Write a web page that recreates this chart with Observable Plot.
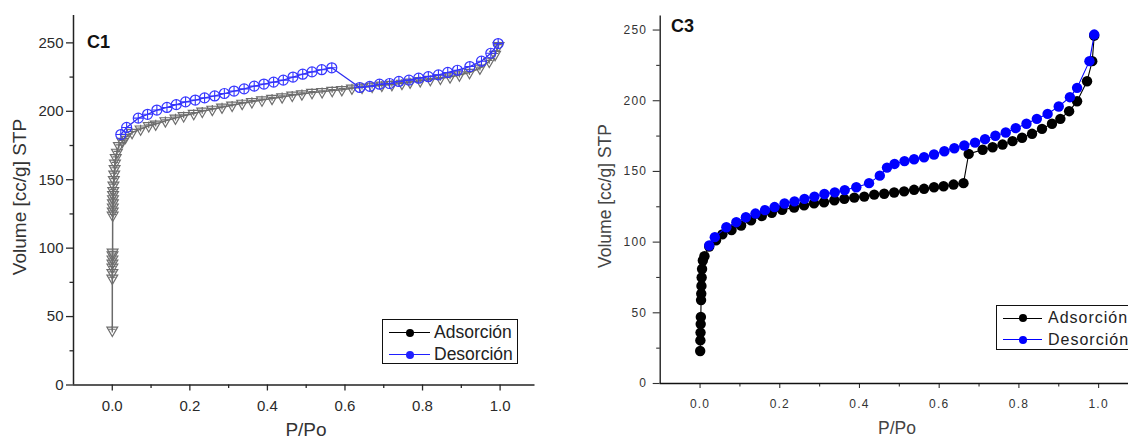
<!DOCTYPE html>
<html><head><meta charset="utf-8">
<script src="https://cdn.jsdelivr.net/npm/d3@7"></script>
<script src="https://cdn.jsdelivr.net/npm/@observablehq/plot@0.6"></script>
<style>
html,body{margin:0;padding:0;background:#fff;overflow:hidden;}
#root{position:relative;width:1128px;height:440px;overflow:hidden;font-family:"Liberation Sans",Arial,sans-serif;}
.panel{position:absolute;top:0;}
.t{position:absolute;white-space:nowrap;line-height:1;}
.c{transform:translate(-50%,-50%);}
.yt{transform:translate(-50%,-50%) rotate(-90deg);}
.lg{position:absolute;background:#fff;border:1.4px solid #111;box-sizing:border-box;}
.row{position:absolute;left:0;display:flex;align-items:center;white-space:nowrap;}
.smp{position:relative;display:inline-block;height:10px;}
.smp i{position:absolute;left:0;right:0;top:4.5px;height:1.2px;}
.smp b{position:absolute;top:1px;width:8px;height:8px;border-radius:50%;}
</style></head><body><div id="root"></div>
<script>
// ---------- data ----------
const xMajor = [0, 0.2, 0.4, 0.6, 0.8, 1.0];
const xMinor = [0.1, 0.3, 0.5, 0.7, 0.9];
const yMajor = [0, 50, 100, 150, 200, 250];
const yMinor = [25, 75, 125, 175, 225];
const seriesNames = ["Adsorción", "Desorción"];
const panelTitles = ["C1", "C3"];

// C1 adsorption (P/Po, volume)
const c1AdsP = [0.00002,0.0001,0.0002,0.0003,0.0004,0.0005,0.0006,0.0008,0.001,0.0012,0.0014,0.0016,0.0018,0.002,0.0025,0.003,0.004,0.005,0.006,0.007,0.009,0.012,0.017,0.026,0.034,0.051,0.073,0.094,0.112,0.137,0.163,0.184,0.21,0.232,0.258,0.283,0.309,0.335,0.36,0.386,0.412,0.438,0.464,0.489,0.515,0.541,0.567,0.592,0.618,0.644,0.67,0.695,0.721,0.747,0.768,0.794,0.82,0.846,0.871,0.895,0.921,0.948,0.972,0.987,0.996];
const c1AdsV = [40,78,82,86,89,92,95,97,124,127,130,133,136,139,142,146,150,154,158,162,166,170,174.8,178,180.9,184.5,187,189.4,190.6,193,195,196.7,198.4,200,201.4,203,204.4,205.8,207,208.2,209.4,210.5,211.7,212.7,213.7,214.3,215.2,215.8,216.9,217.6,218.3,219,219.6,220.4,221.3,222.3,223.2,224.1,225.1,226.5,228.3,231.5,236.5,241.5,248];
// C1 desorption
const c1DesP = [0.022,0.037,0.067,0.091,0.115,0.141,0.165,0.189,0.214,0.238,0.264,0.289,0.314,0.34,0.366,0.391,0.416,0.441,0.466,0.491,0.515,0.54,0.566,0.638,0.664,0.689,0.715,0.739,0.765,0.79,0.815,0.841,0.865,0.89,0.922,0.952,0.976,0.995];
const c1DesV = [183,188.2,195,197.8,200.9,202.8,204.9,206.9,208.2,209.8,211.2,213,214.8,216.4,218.4,219.9,221.3,222.8,225,227.1,228.8,230.4,231.8,217.4,218.2,219.8,220.3,221.8,222.8,224.2,225.3,226.6,228.4,230,232.7,236.6,242.4,249.5];

// C3 adsorption
const c3AdsP = [0.0003,0.0008,0.0012,0.0016,0.002,0.0025,0.003,0.0035,0.004,0.005,0.007,0.011,0.023,0.04,0.056,0.079,0.103,0.128,0.155,0.18,0.206,0.236,0.261,0.286,0.311,0.337,0.362,0.387,0.412,0.437,0.462,0.487,0.512,0.537,0.562,0.587,0.611,0.636,0.661,0.674,0.709,0.734,0.759,0.784,0.808,0.833,0.858,0.883,0.904,0.926,0.946,0.971,0.984,0.989];
const c3AdsV = [23,30.5,36,42,47,59,63.5,69,75,81,87,90,96.9,101.3,105.5,108.5,111.7,115.5,118.5,120.8,122.8,124.5,126,127.5,128.2,129.6,130.6,131.5,132.2,133.6,134.2,135.1,135.9,137,137.7,138.8,139.5,140.7,141.7,162.4,165.3,167.1,169,171.4,173.8,176.6,180.1,183.7,187.2,192.6,199.6,213.8,228,246];
// C3 desorption
const c3DesP = [0.023,0.037,0.066,0.091,0.115,0.139,0.163,0.187,0.212,0.237,0.262,0.287,0.312,0.338,0.363,0.392,0.424,0.451,0.469,0.488,0.513,0.537,0.562,0.587,0.613,0.638,0.663,0.69,0.715,0.741,0.767,0.792,0.819,0.845,0.872,0.9,0.928,0.946,0.977,0.989];
const c3DesV = [97.6,103.5,110.5,114.1,117.6,120.2,122.6,124.8,127.3,128.8,130.6,132.2,134,135.2,136.8,138.8,141.7,147,152.7,155.3,157.3,158.6,160,162,164.3,166.4,168.3,170.4,172.8,175.2,177.5,180.6,183.7,187.2,190.7,195.9,202.5,209.1,228,246.8];

const zip = (P, V) => P.map((p, i) => ({p, v: V[i]}));
const c1Ads = zip(c1AdsP, c1AdsV), c1Des = zip(c1DesP, c1DesV);
const c3Ads = zip(c3AdsP, c3AdsV), c3Des = zip(c3DesP, c3DesV);

const root = document.getElementById("root");
const fmt = d3.format(".1f");
const font = "'Liberation Sans', Arial, sans-serif";

// ---------- Panel C1 ----------
const p1 = Plot.plot({
  width: 560, height: 440,
  marginLeft: 73, marginRight: 25.5, marginTop: 15, marginBottom: 55.5,
  x: {domain: [-0.1, 1.09]},
  y: {domain: [0, 270]},
  style: {fontFamily: font, fontSize: "15px", color: "#2a2a2a", background: "transparent", overflow: "visible"},
  marks: [
    Plot.axisX(xMajor, {tickSize: 6, tickPadding: 9, tickFormat: fmt, label: null, strokeWidth: 1.3}),
    Plot.axisX(xMinor, {tickSize: 3.5, tickFormat: () => "", label: null, strokeWidth: 1.3}),
    Plot.axisY(yMajor, {tickSize: 7, tickPadding: 3, label: null, strokeWidth: 1.3}),
    Plot.axisY(yMinor, {tickSize: 3.5, tickFormat: () => "", label: null, strokeWidth: 1.3}),
    Plot.ruleX([-0.1], {stroke: "#222", strokeWidth: 1.5}),
    Plot.ruleY([0], {stroke: "#222", strokeWidth: 1.5}),
    Plot.line(c1Ads, {x: "p", y: "v", stroke: "#6b6b6b", strokeWidth: 1.5}),
    Plot.dot(c1Ads, {x: "p", y: "v", symbol: "triangle", rotate: 180, r: 4, stroke: "#6e6e6e", fill: "none", strokeWidth: 1.2}),
    Plot.dot(c1Ads, {x: "p", y: "v", symbol: "plus", r: 2.3, dy: -1, stroke: "#6e6e6e", strokeWidth: 1.2}),
    Plot.line(c1Des, {x: "p", y: "v", stroke: "#2f2ff0", strokeWidth: 1.3}),
    Plot.dot(c1Des, {x: "p", y: "v", symbol: "circle", r: 5, stroke: "#3535ff", fill: "none", strokeWidth: 1.2}),
    Plot.dot(c1Des, {x: "p", y: "v", symbol: "plus", r: 3.3, stroke: "#3535ff", strokeWidth: 1.1})
  ]
});
p1.classList.add("panel"); p1.style.left = "0px";
root.appendChild(p1);

// ---------- Panel C3 ----------
const p3 = Plot.plot({
  width: 568, height: 440,
  marginLeft: 99.7, marginRight: 0, marginTop: 15.4, marginBottom: 57,
  x: {domain: [-0.1, 1.075]},
  y: {domain: [0, 260]},
  style: {fontFamily: font, fontSize: "12px", letterSpacing: "1.2px", color: "#333", background: "transparent", overflow: "visible"},
  marks: [
    Plot.axisX(xMajor, {tickSize: 5, tickPadding: 11, tickFormat: fmt, label: null, strokeWidth: 1.1}),
    Plot.axisX(xMinor, {tickSize: 3.5, tickFormat: () => "", label: null, strokeWidth: 1.1}),
    Plot.axisY(yMajor, {tickSize: 7, tickPadding: 6, label: null, strokeWidth: 1.1}),
    Plot.axisY(yMinor, {tickSize: 3.5, tickFormat: () => "", label: null, strokeWidth: 1.1}),
    Plot.ruleX([-0.1], {stroke: "#111", strokeWidth: 1.3}),
    Plot.ruleY([0], {stroke: "#111", strokeWidth: 1.3}),
    Plot.line(c3Ads, {x: "p", y: "v", stroke: "#000", strokeWidth: 1.1}),
    Plot.dot(c3Ads, {x: "p", y: "v", r: 5.2, fill: "#000"}),
    Plot.line(c3Des, {x: "p", y: "v", stroke: "#0000ff", strokeWidth: 1.1}),
    Plot.dot(c3Des, {x: "p", y: "v", r: 5.2, fill: "#0000ff"})
  ]
});
p3.classList.add("panel"); p3.style.left = "560px";
root.appendChild(p3);

// ---------- text ----------
function txt(s, x, y, cls, css) {
  const d = document.createElement("div");
  d.className = "t " + cls; d.textContent = s;
  d.style.left = x + "px"; d.style.top = y + "px";
  Object.assign(d.style, css || {});
  root.appendChild(d);
}
txt(panelTitles[0], 87, 33, "", {fontSize: "18px", fontWeight: "bold", color: "#111"});
txt(panelTitles[1], 671, 17, "", {fontSize: "18px", fontWeight: "bold", color: "#111"});
txt("Volume [cc/g] STP", 19, 197, "yt", {fontSize: "19px", color: "#333"});
txt("P/Po", 306, 429, "c", {fontSize: "19px", color: "#333"});
txt("Volume [cc/g] STP", 606, 196, "yt", {fontSize: "17.5px", color: "#444"});
txt("P/Po", 897, 429, "c", {fontSize: "17.5px", color: "#444"});

// ---------- legends ----------
function legend(x, y, w, h, rows, opts) {
  const box = document.createElement("div");
  box.className = "lg";
  Object.assign(box.style, {left: x + "px", top: y + "px", width: w + "px", height: h + "px"});
  rows.forEach((r, i) => {
    const row = document.createElement("div");
    row.className = "row";
    row.style.top = (opts.rowY[i] - 10) + "px";
    row.style.height = "20px";
    row.style.paddingLeft = opts.pad + "px";
    const smp = document.createElement("span");
    smp.className = "smp"; smp.style.width = opts.lineW + "px";
    const ln = document.createElement("i"); ln.style.background = r.color;
    const dt = document.createElement("b"); dt.style.background = r.color; dt.style.left = (opts.lineW / 2 - 4) + "px";
    smp.appendChild(ln); smp.appendChild(dt);
    const lab = document.createElement("span");
    lab.textContent = r.name;
    Object.assign(lab.style, {marginLeft: opts.gap + "px", fontSize: opts.fs, letterSpacing: opts.ls, color: "#222"});
    row.appendChild(smp); row.appendChild(lab);
    box.appendChild(row);
  });
  root.appendChild(box);
}
legend(382, 319, 136, 45, [{name: seriesNames[0], color: "#000"}, {name: seriesNames[1], color: "#2020ff"}],
  {rowY: [12.5, 34.5], pad: 6, lineW: 41, gap: 4, fs: "17.5px", ls: "0px"});
legend(996, 305, 150, 45, [{name: seriesNames[0], color: "#000"}, {name: seriesNames[1], color: "#0000ff"}],
  {rowY: [12, 33.5], pad: 6, lineW: 39, gap: 6, fs: "16px", ls: "1px"});
</script>
</body></html>
